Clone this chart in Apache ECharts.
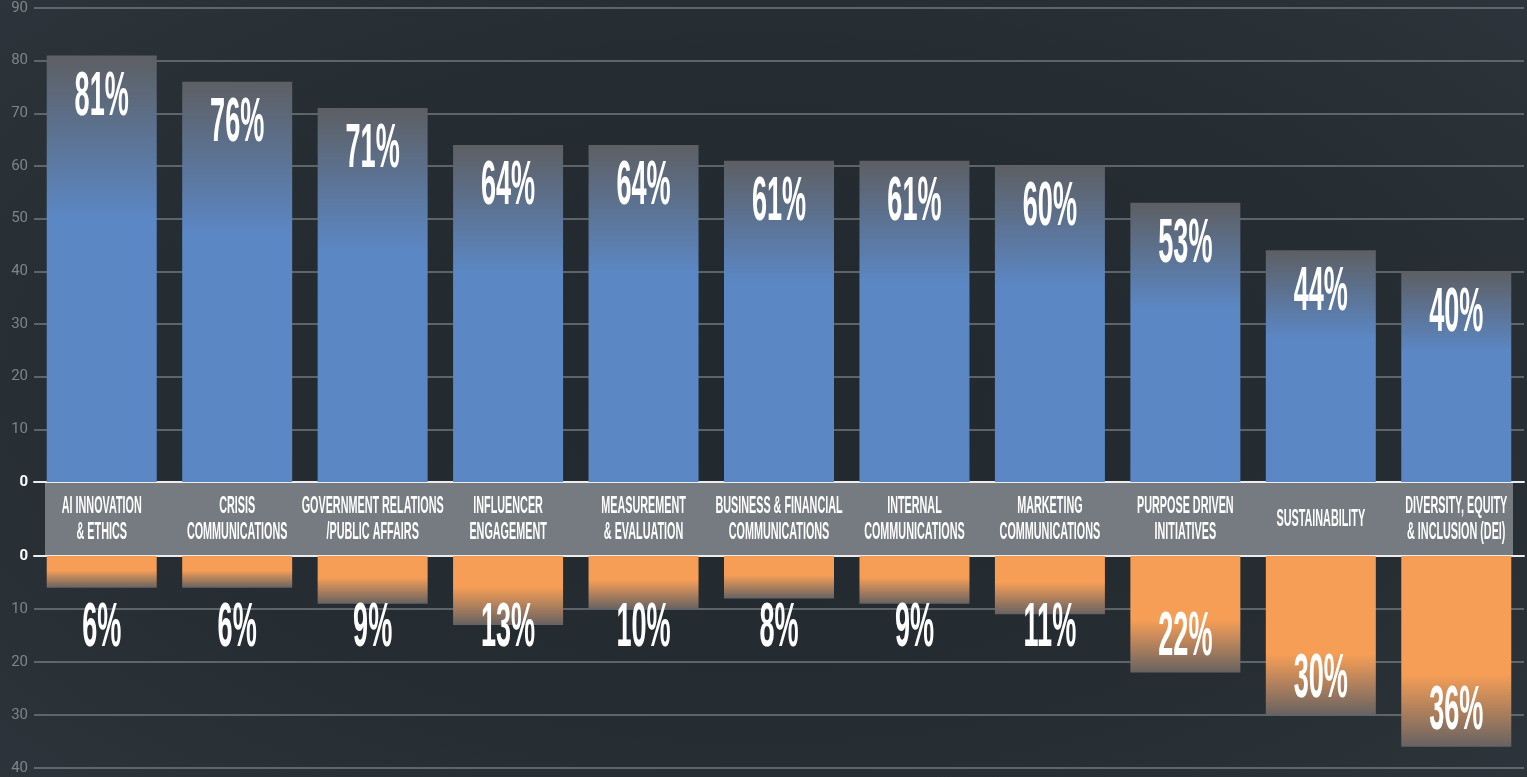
<!DOCTYPE html>
<html>
<head>
<meta charset="utf-8">
<script src="https://cdn.jsdelivr.net/npm/echarts@6/dist/echarts.min.js"></script>
<style>
html,body{margin:0;padding:0;}
#chart{width:1527px;height:777px;background:radial-gradient(ellipse 75% 80% at 50% 50%, #22292e 0%, #252c32 55%, #2e373d 100%);}
</style>
</head>
<body>
<div id="chart"></div>
<script>
const categories = [
  'AI INNOVATION\n& ETHICS',
  'CRISIS\nCOMMUNICATIONS',
  'GOVERNMENT RELATIONS\n/PUBLIC AFFAIRS',
  'INFLUENCER\nENGAGEMENT',
  'MEASUREMENT\n& EVALUATION',
  'BUSINESS & FINANCIAL\nCOMMUNICATIONS',
  'INTERNAL\nCOMMUNICATIONS',
  'MARKETING\nCOMMUNICATIONS',
  'PURPOSE DRIVEN\nINITIATIVES',
  'SUSTAINABILITY',
  'DIVERSITY, EQUITY\n& INCLUSION (DEI)'
];
const topValues = [81, 76, 71, 64, 64, 61, 61, 60, 53, 44, 40];
const bottomValues = [6, 6, 9, 13, 10, 8, 9, 11, 22, 30, 36];
const topMax = 90;
const bottomMax = 40;
const tickStep = 10;

const BLUE = '#5b87c4';
const ORANGE = '#f69e56';
const LABEL_FONT = 'bold 63px "Liberation Sans", Arial, sans-serif';
const CAT_FONT = 'bold 24px "Liberation Sans", Arial, sans-serif';

function topGradient() {
  return new echarts.graphic.LinearGradient(0, 0, 0, 1, [
    {offset: 0, color: '#5d5f63'},
    {offset: 0.38, color: BLUE},
    {offset: 1, color: BLUE}
  ]);
}
function bottomGradient(v) {
  const start = v < 15 ? 0.45 : (v < 25 ? 0.55 : 0.62);
  return new echarts.graphic.LinearGradient(0, 0, 0, 1, [
    {offset: 0, color: ORANGE},
    {offset: start, color: ORANGE},
    {offset: 1, color: '#676262'}
  ]);
}

const axisLabelRich = {
  formatter: v => v === 0 ? '{z|0}' : '{n|' + v + '}',
  margin: 6,
  rich: {
    z: {color: '#ffffff', fontWeight: 'bold', fontSize: 15, fontFamily: 'Roboto, sans-serif'},
    n: {color: '#7d858a', fontSize: 15, fontFamily: 'Roboto, sans-serif'}
  }
};

const chart = echarts.init(document.getElementById('chart'), null, {renderer: 'canvas'});
chart.setOption({
  backgroundColor: 'transparent',
  animation: false,
  grid: [
    {left: 34, right: 3, top: 8, height: 474},
    {left: 34, right: 3, top: 556, height: 212}
  ],
  xAxis: [
    {gridIndex: 0, type: 'category', data: categories, position: 'bottom',
     axisLine: {lineStyle: {color: '#ececec', width: 2}}, axisTick: {show: false}, axisLabel: {show: false}},
    {gridIndex: 1, type: 'category', data: categories, position: 'top',
     axisLine: {lineStyle: {color: '#ececec', width: 2}}, axisTick: {show: false}, axisLabel: {show: false}}
  ],
  yAxis: [
    {gridIndex: 0, type: 'value', min: 0, max: topMax, interval: tickStep,
     axisLine: {show: false}, axisTick: {show: false},
     splitLine: {lineStyle: {color: '#6f787d', width: 1.5}},
     axisLabel: axisLabelRich},
    {gridIndex: 1, type: 'value', min: 0, max: bottomMax, interval: tickStep, inverse: true,
     axisLine: {show: false}, axisTick: {show: false},
     splitLine: {lineStyle: {color: '#6f787d', width: 1.5}},
     axisLabel: axisLabelRich}
  ],
  graphic: [
    {type: 'rect', left: 45, top: 483, z: 1,
     shape: {width: 1468, height: 72}, style: {fill: '#757b80'}}
  ],
  series: [
    {type: 'bar', xAxisIndex: 0, yAxisIndex: 0, barWidth: 110, z: 3,
     data: topValues.map(v => ({value: v, itemStyle: {color: topGradient(v)}}))},
    {type: 'bar', xAxisIndex: 1, yAxisIndex: 1, barWidth: 110, z: 3,
     data: bottomValues.map(v => ({value: v, itemStyle: {color: bottomGradient(v)}}))},
    {type: 'custom', xAxisIndex: 0, yAxisIndex: 0, clip: false, z: 10,
     data: categories.map((c, i) => [i, 0]),
     renderItem: (params, api) => {
       const p = api.coord([api.value(0), 0]);
       return {type: 'text', x: p[0], y: p[1] + 37, scaleX: 0.45, z2: 20,
         style: {text: categories[params.dataIndex], fill: '#ffffff', font: CAT_FONT,
                 align: 'center', verticalAlign: 'middle', lineHeight: 26}};
     }},
    {type: 'custom', xAxisIndex: 0, yAxisIndex: 0, clip: false, z: 10,
     data: topValues.map((v, i) => [i, v]),
     renderItem: (params, api) => {
       const p = api.coord([api.value(0), api.value(1)]);
       return {type: 'text', x: p[0], y: p[1] + 42, scaleX: 0.43, z2: 20,
         style: {text: api.value(1) + '%', fill: '#ffffff', font: LABEL_FONT,
                 align: 'center', verticalAlign: 'middle'}};
     }},
    {type: 'custom', xAxisIndex: 1, yAxisIndex: 1, clip: false, z: 10,
     data: bottomValues.map((v, i) => [i, v]),
     renderItem: (params, api) => {
       const p = api.coord([api.value(0), api.value(1)]);
       const base = api.coord([api.value(0), 0]);
       const y = Math.max(p[1] - 35, base[1] + 73);
       return {type: 'text', x: p[0], y: y, scaleX: 0.43, z2: 20,
         style: {text: api.value(1) + '%', fill: '#ffffff', font: LABEL_FONT,
                 align: 'center', verticalAlign: 'middle'}};
     }}
  ]
});
</script>
</body>
</html>
